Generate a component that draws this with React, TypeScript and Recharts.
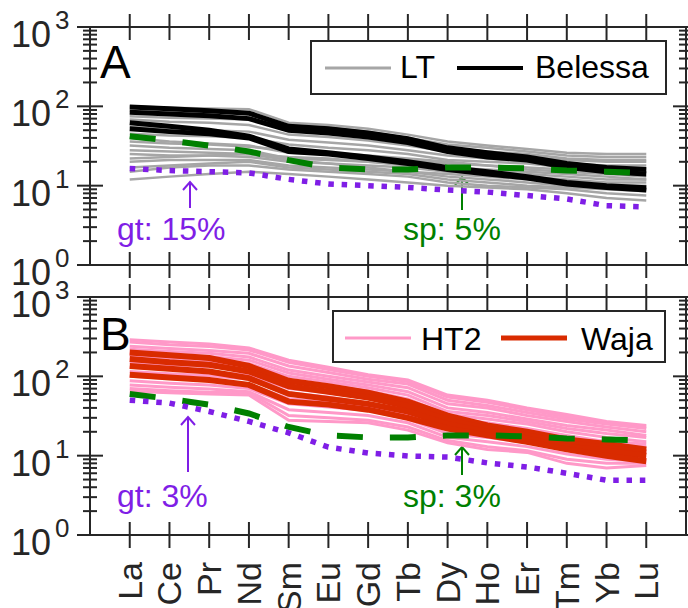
import React from 'react';
import { LineChart, Line, XAxis, YAxis, Legend, Customized } from 'recharts';

const FONT = '"Liberation Sans", Arial, sans-serif';
const AXIS = '#262626';

const ELEMENTS = ['La', 'Ce', 'Pr', 'Nd', 'Sm', 'Eu', 'Gd', 'Tb', 'Dy', 'Ho', 'Er', 'Tm', 'Yb', 'Lu'];
const X_TICKS = [1, 2, 3, 4, 5, 6, 7, 8, 9, 10, 11, 12, 13, 14];
const Y_MAJOR = [1, 10, 100, 1000];
const Y_MINOR = [
  2, 3, 4, 5, 6, 7, 8, 9,
  20, 30, 40, 50, 60, 70, 80, 90,
  200, 300, 400, 500, 600, 700, 800, 900,
];

// Panel A: LT samples (grey), Belessa (black), melt models
const LT = [
  [100, 96, 94, 92, 62, 58, 52, 44, 36, 32, 29, 26, 25, 25],
  [88, 85, 83, 80, 58, 54, 48, 40, 33, 30, 27, 24, 23, 23],
  [75, 72, 70, 68, 50, 46, 42, 36, 30, 27, 25, 22, 21, 21],
  [68, 64, 62, 58, 44, 41, 37, 32, 27, 25, 23, 21, 20, 20],
  [55, 52, 50, 48, 38, 35, 32, 28, 24, 22, 20, 19, 18, 18],
  [45, 43, 42, 40, 33, 30, 28, 25, 21, 20, 19, 17, 17, 16],
  [40, 36, 34, 32, 26, 25, 23, 21, 19, 18, 17, 16, 15, 15],
  [36, 34, 33, 31, 28, 26, 24, 22, 20, 18, 16, 15, 14, 13],
  [32, 30, 29, 28, 22, 21, 20, 19, 17, 16, 15, 14, 13, 12],
  [28, 27, 26, 25, 23, 22, 20, 18, 16, 15, 14, 13, 12, 12],
  [25, 24, 24, 23, 20, 19, 18, 17, 15, 14, 13, 12, 11, 11],
  [22, 23, 24, 25, 21, 19, 17, 15, 14, 13, 12, 11, 10, 10],
  [20, 21, 21, 21, 18, 17, 16, 15, 13, 12, 11, 10, 9.5, 9],
  [17, 18, 19, 20, 17, 16, 15, 14, 12, 11, 10, 9.5, 9, 8.5],
  [15, 17, 18, 18, 16, 15, 14, 13, 11, 10, 9.5, 9, 8, 7.5],
  [12, 13, 14, 15, 14, 13, 12, 11, 10, 9.5, 9, 8, 7, 6.5],
];
const BELESSA = [
  [98, 93, 88, 82, 56, 52, 46, 39, 30, 26, 23, 19, 17, 16],
  [84, 80, 76, 70, 50, 46, 41, 35, 27, 23, 21, 17, 15, 14],
  [62, 56, 50, 42, 29, 26, 23, 20, 17, 15, 13, 11, 10, 9.4],
  [52, 48, 45, 40, 27, 25, 22, 19, 16, 14, 12.5, 10.5, 9.5, 8.8],
];
const SP_A = [42, 37, 32, 27, 21, 17, 16, 16, 17, 17, 16.5, 15.5, 15, 14.5];
const GT_A = [16.5, 15.5, 15, 14.5, 12, 10.5, 10, 9.5, 8.8, 8.3, 7.5, 6.8, 5.6, 5.4];

// Panel B: HT2 samples (pink), Waja (red), melt models
const HT2 = [
  [290, 270, 255, 228, 160, 130, 105, 90, 58, 50, 40, 33, 27, 24],
  [270, 250, 238, 215, 150, 122, 100, 86, 55, 47, 38, 31, 26, 23],
  [240, 225, 212, 195, 135, 112, 92, 80, 50, 43, 35, 29, 25, 22],
  [220, 205, 195, 175, 120, 100, 85, 72, 45, 40, 32, 27, 23, 20],
  [200, 188, 178, 160, 110, 92, 78, 64, 40, 35, 29, 24, 21, 18],
  [185, 172, 162, 145, 100, 85, 72, 58, 36, 32, 27, 22, 19, 17],
  [170, 158, 150, 133, 90, 78, 66, 52, 33, 29, 25, 20, 17, 15],
  [150, 140, 132, 118, 80, 70, 58, 46, 30, 26, 22, 18, 15, 14],
  [130, 122, 115, 104, 70, 62, 52, 41, 27, 23, 20, 16, 14, 13],
  [115, 108, 102, 92, 62, 55, 46, 37, 24, 21, 18, 15, 12, 12],
  [100, 94, 88, 80, 52, 47, 41, 33, 22, 19, 16, 13, 11, 11],
  [88, 82, 78, 70, 45, 41, 37, 29, 19, 17, 14.5, 12, 10, 9.5],
  [78, 73, 69, 64, 38, 35, 32, 26, 17, 15, 13, 10.5, 9, 8.5],
  [70, 66, 63, 62, 32, 30, 28, 23, 15.5, 13, 11.5, 9, 8, 8],
  [65, 62, 60, 58, 28, 27, 26, 21, 14.5, 12, 11, 8, 7, 7.5],
];
const WAJA = [
  [200, 185, 170, 135, 88, 75, 62, 48, 32, 24, 20, 16, 14, 12],
  [165, 150, 140, 115, 75, 64, 54, 42, 28, 22, 18, 14.5, 12.5, 11],
  [135, 125, 115, 95, 60, 52, 45, 36, 25, 20, 16.5, 13, 11.5, 10],
  [105, 97, 90, 78, 48, 44, 38, 30, 22, 18, 15, 12, 10, 8.5],
];
const SP_B = [60, 52, 44, 34, 23, 18, 17, 17, 18, 18, 17.5, 16.5, 16, 15.5];
const GT_B = [50, 46, 36, 27, 19.4, 12.8, 10.8, 9.9, 9.6, 8.1, 7.2, 6, 4.9, 4.9];

type Group = { key: string; name: string; lines: number[][]; color: string; width: number };
type LegendItem = { label: string; color: string; width: number; lineX: number; textX: number };
type Note = { text: string; color: string; tx: number; ty: number; ax: number; tip: number; tail: number };

const buildRows = (groups: Group[], sp: number[], gt: number[]) =>
  ELEMENTS.map((_, i) => {
    const row: Record<string, number> = { x: X_TICKS[i], sp: sp[i], gt: gt[i] };
    groups.forEach((g) => g.lines.forEach((ln, j) => { row[`${g.key}${j}`] = ln[i]; }));
    return row;
  });

const isMajor = (v: number) => Y_MAJOR.includes(v);

const XTick = ({ x, y, payload, labels }: any) => (
  <g>
    <line x1={x} x2={x} y1={y - 13} y2={y + 13} stroke={AXIS} strokeWidth={2} />
    {labels && (
      <text
        transform={`translate(${x + 12},${y + 27}) rotate(-90)`}
        textAnchor="end"
        fontSize={34}
        fontFamily={FONT}
        fill={AXIS}
      >
        {ELEMENTS[payload.value - 1]}
      </text>
    )}
  </g>
);

const YTick = ({ x, y, payload, labels }: any) => {
  const major = isMajor(payload.value);
  const len = major ? 13 : 7;
  return (
    <g>
      <line x1={x - len} x2={x + len} y1={y} y2={y} stroke={AXIS} strokeWidth={2} />
      {labels && major && (
        <g fontFamily={FONT} fill={AXIS}>
          <text x={x - 39} y={y + 20} fontSize={36} textAnchor="end">10</text>
          <text x={x - 35} y={y + 2} fontSize={26}>{Math.round(Math.log10(payload.value))}</text>
        </g>
      )}
    </g>
  );
};

interface PanelProps {
  top: number;
  height: number;
  bottomAxis: number;
  showNames: boolean;
  groups: Group[];
  sp: number[];
  gt: number[];
  letter: string;
  letterY: number;
  legendBox: { left: number; top: number; width: number; height: number; baseline: number };
  legendItems: LegendItem[];
  notes: Note[];
}

function Panel({ top, height, bottomAxis, showNames, groups, sp, gt, letter, letterY, legendBox, legendItems, notes }: PanelProps) {
  const data = buildRows(groups, sp, gt);
  const yTicks = [...Y_MAJOR, ...Y_MINOR].sort((a, b) => a - b);

  const legendContent = () => (
    <svg width={legendBox.width} height={legendBox.height} style={{ display: 'block' }}>
      <rect x={1} y={1} width={legendBox.width - 2} height={legendBox.height - 2} fill="#fff" stroke={AXIS} strokeWidth={2} />
      {legendItems.map((it) => (
        <g key={it.label}>
          <line x1={it.lineX} x2={it.lineX + 66} y1={28} y2={28} stroke={it.color} strokeWidth={it.width} />
          <text x={it.textX} y={legendBox.baseline} fontSize={32} fontFamily={FONT} fill="#000">{it.label}</text>
        </g>
      ))}
    </svg>
  );

  return (
    <div style={{ position: 'absolute', left: 0, top }}>
      <LineChart width={688} height={height} data={data} margin={{ top: 0, right: 0, bottom: 0, left: 0 }}>
        <XAxis
          xAxisId="b"
          type="number"
          dataKey="x"
          domain={[0, 15]}
          ticks={X_TICKS}
          interval={0}
          height={bottomAxis}
          tickSize={0}
          tickMargin={0}
          tickLine={false}
          axisLine={{ stroke: AXIS, strokeWidth: 2 }}
          tick={(p: any) => <XTick {...p} labels={showNames} />}
        />
        <XAxis
          xAxisId="t"
          orientation="top"
          type="number"
          dataKey="x"
          domain={[0, 15]}
          ticks={X_TICKS}
          interval={0}
          height={27}
          tickSize={0}
          tickMargin={0}
          tickLine={false}
          axisLine={{ stroke: AXIS, strokeWidth: 2 }}
          tick={(p: any) => <XTick {...p} labels={false} />}
        />
        <YAxis
          yAxisId="l"
          scale="log"
          domain={[1, 1000]}
          allowDataOverflow
          ticks={yTicks}
          interval={0}
          width={90}
          tickSize={0}
          tickMargin={0}
          tickLine={false}
          axisLine={{ stroke: AXIS, strokeWidth: 2 }}
          tick={(p: any) => <YTick {...p} labels />}
        />
        <YAxis
          yAxisId="r"
          orientation="right"
          scale="log"
          domain={[1, 1000]}
          allowDataOverflow
          ticks={yTicks}
          interval={0}
          width={2}
          tickSize={0}
          tickMargin={0}
          tickLine={false}
          axisLine={{ stroke: AXIS, strokeWidth: 2 }}
          tick={(p: any) => <YTick {...p} labels={false} />}
        />
        {groups.map((g) =>
          g.lines.map((_, j) => (
            <Line
              key={`${g.key}${j}`}
              xAxisId="b"
              yAxisId="l"
              type="linear"
              dataKey={`${g.key}${j}`}
              name={g.name}
              stroke={g.color}
              strokeWidth={g.width}
              dot={false}
              legendType="none"
              isAnimationActive={false}
            />
          ))
        )}
        <Line xAxisId="b" yAxisId="l" type="linear" dataKey="sp" stroke="#008000" strokeWidth={6}
          strokeDasharray="26 27" dot={false} legendType="none" isAnimationActive={false} />
        <Line xAxisId="b" yAxisId="l" type="linear" dataKey="gt" stroke="#7f1ee6" strokeWidth={5.5}
          strokeDasharray="5.5 7.8" dot={false} legendType="none" isAnimationActive={false} />
        <Legend
          layout="horizontal"
          verticalAlign="middle"
          align="center"
          content={legendContent}
          wrapperStyle={{ left: legendBox.left, top: legendBox.top, width: legendBox.width, height: legendBox.height }}
        />
        <Customized
          component={() => (
            <g fontFamily={FONT}>
              <text x={100} y={letterY} fontSize={46} fill="#000">{letter}</text>
              {notes.map((n) => (
                <g key={n.text}>
                  <line x1={n.ax} x2={n.ax} y1={n.tip} y2={n.tail} stroke={n.color} strokeWidth={2} />
                  <polyline points={`${n.ax - 7},${n.tip + 8} ${n.ax},${n.tip} ${n.ax + 7},${n.tip + 8}`}
                    fill="none" stroke={n.color} strokeWidth={2} />
                  <text x={n.tx} y={n.ty} fontSize={32} fill={n.color}>{n.text}</text>
                </g>
              ))}
            </g>
          )}
        />
      </LineChart>
    </div>
  );
}

export default function App() {
  return (
    <div style={{ position: 'absolute', left: 0, top: 0, width: 688, height: 608, background: '#fff', overflow: 'hidden' }}>
      <Panel
        top={0}
        height={295}
        bottomAxis={30}
        showNames={false}
        groups={[
          { key: 'lt', name: 'LT', lines: LT, color: '#a6a6a6', width: 2.5 },
          { key: 'bel', name: 'Belessa', lines: BELESSA, color: '#000000', width: 5 },
        ]}
        sp={SP_A}
        gt={GT_A}
        letter="A"
        letterY={78}
        legendBox={{ left: 310, top: 40, width: 357, height: 55, baseline: 38 }}
        legendItems={[
          { label: 'LT', color: '#a6a6a6', width: 3, lineX: 15, textX: 90 },
          { label: 'Belessa', color: '#000000', width: 4, lineX: 147, textX: 225 },
        ]}
        notes={[
          { text: 'gt: 15%', color: '#7f1ee6', tx: 117, ty: 240, ax: 190, tip: 182, tail: 208 },
          { text: 'sp: 5%', color: '#008000', tx: 403, ty: 240, ax: 462, tip: 177, tail: 210 },
        ]}
      />
      <Panel
        top={270}
        height={338}
        bottomAxis={73}
        showNames
        groups={[
          { key: 'ht', name: 'HT2', lines: HT2, color: '#ff99c8', width: 3 },
          { key: 'wj', name: 'Waja', lines: WAJA, color: '#d92b00', width: 6 },
        ]}
        sp={SP_B}
        gt={GT_B}
        letter="B"
        letterY={80}
        legendBox={{ left: 332, top: 40, width: 334, height: 53, baseline: 40 }}
        legendItems={[
          { label: 'HT2', color: '#ff99c8', width: 3, lineX: 13, textX: 89 },
          { label: 'Waja', color: '#d92b00', width: 5, lineX: 169, textX: 249 },
        ]}
        notes={[
          { text: 'gt: 3%', color: '#7f1ee6', tx: 117, ty: 237, ax: 188, tip: 147, tail: 202 },
          { text: 'sp: 3%', color: '#008000', tx: 403, ty: 237, ax: 462, tip: 177, tail: 205 },
        ]}
      />
    </div>
  );
}
